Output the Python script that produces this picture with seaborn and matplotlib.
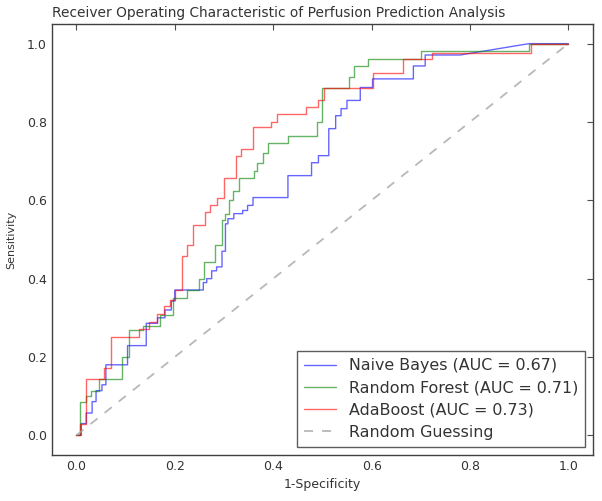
import matplotlib
matplotlib.use("Agg")
import matplotlib.pyplot as plt
import seaborn as sns
import pandas as pd

# ROC curve vertices (1-specificity, sensitivity)
nb_fpr = [0.0, 0.01, 0.01, 0.02, 0.02, 0.032, 0.032, 0.04, 0.04, 0.052, 0.052, 0.06, 0.06,
          0.104, 0.104, 0.142, 0.142, 0.165, 0.165, 0.18, 0.18, 0.193, 0.193, 0.2, 0.2,
          0.258, 0.258, 0.265, 0.265, 0.275, 0.275, 0.285, 0.285, 0.296, 0.296, 0.303, 0.303,
          0.308, 0.308, 0.32, 0.32, 0.338, 0.338, 0.348, 0.348, 0.359, 0.359, 0.43, 0.43,
          0.478, 0.478, 0.492, 0.492, 0.513, 0.513, 0.527, 0.527, 0.538, 0.538, 0.55, 0.55,
          0.577, 0.577, 0.602, 0.602, 0.685, 0.685, 0.709, 0.709, 0.78, 0.92, 1.0]
nb_tpr = [0.0, 0.0, 0.03, 0.03, 0.057, 0.057, 0.086, 0.086, 0.114, 0.114, 0.129, 0.129, 0.18,
          0.18, 0.229, 0.229, 0.286, 0.286, 0.3, 0.3, 0.32, 0.32, 0.343, 0.343, 0.371,
          0.371, 0.39, 0.39, 0.4, 0.4, 0.42, 0.42, 0.43, 0.43, 0.47, 0.47, 0.54,
          0.54, 0.553, 0.553, 0.566, 0.566, 0.574, 0.574, 0.587, 0.587, 0.607, 0.607, 0.663,
          0.663, 0.696, 0.696, 0.714, 0.714, 0.783, 0.783, 0.816, 0.816, 0.834, 0.834, 0.855,
          0.855, 0.888, 0.888, 0.91, 0.91, 0.943, 0.943, 0.971, 0.971, 1.0, 1.0]

rf_fpr = [0.0, 0.008, 0.008, 0.02, 0.02, 0.03, 0.03, 0.045, 0.045, 0.093, 0.093, 0.107, 0.107,
          0.135, 0.135, 0.17, 0.17, 0.197, 0.197, 0.224, 0.224, 0.25, 0.25, 0.26, 0.26,
          0.282, 0.282, 0.296, 0.296, 0.303, 0.303, 0.31, 0.31, 0.318, 0.318, 0.33, 0.33,
          0.361, 0.361, 0.367, 0.367, 0.38, 0.38, 0.39, 0.39, 0.43, 0.43, 0.49, 0.49, 0.5, 0.5,
          0.554, 0.554, 0.565, 0.565, 0.592, 0.592, 0.7, 0.7, 0.92, 0.92, 1.0]
rf_tpr = [0.0, 0.0, 0.086, 0.086, 0.1, 0.1, 0.114, 0.114, 0.143, 0.143, 0.2, 0.2, 0.268,
          0.268, 0.28, 0.28, 0.306, 0.306, 0.35, 0.35, 0.371, 0.371, 0.4, 0.4, 0.443,
          0.443, 0.486, 0.486, 0.55, 0.55, 0.565, 0.565, 0.6, 0.6, 0.625, 0.625, 0.658,
          0.658, 0.676, 0.676, 0.694, 0.694, 0.722, 0.722, 0.747, 0.747, 0.765, 0.765, 0.8, 0.8, 0.886,
          0.886, 0.914, 0.914, 0.943, 0.943, 0.962, 0.962, 0.98, 0.98, 1.0, 1.0]

ab_fpr = [0.0, 0.008, 0.008, 0.02, 0.02, 0.056, 0.056, 0.07, 0.07, 0.128, 0.128, 0.148, 0.148,
          0.163, 0.163, 0.178, 0.178, 0.19, 0.19, 0.2, 0.2, 0.214, 0.214, 0.224, 0.224,
          0.237, 0.237, 0.262, 0.262, 0.272, 0.272, 0.286, 0.286, 0.3, 0.3, 0.324, 0.324,
          0.334, 0.334, 0.358, 0.358, 0.396, 0.396, 0.408, 0.408, 0.466, 0.466, 0.492, 0.492,
          0.503, 0.503, 0.602, 0.602, 0.664, 0.664, 0.722, 0.722, 0.925, 0.925, 1.0]
ab_tpr = [0.0, 0.0, 0.03, 0.03, 0.143, 0.143, 0.171, 0.171, 0.25, 0.25, 0.271, 0.271, 0.29,
          0.29, 0.31, 0.31, 0.33, 0.33, 0.345, 0.345, 0.371, 0.371, 0.457, 0.457, 0.486,
          0.486, 0.536, 0.536, 0.569, 0.569, 0.587, 0.587, 0.607, 0.607, 0.658, 0.658, 0.714,
          0.714, 0.732, 0.732, 0.786, 0.786, 0.8, 0.8, 0.82, 0.82, 0.837, 0.837, 0.855,
          0.855, 0.886, 0.886, 0.925, 0.925, 0.96, 0.96, 0.975, 0.975, 1.0, 1.0]

models = ["Naive Bayes", "Random Forest", "AdaBoost"]
aucs = [0.67, 0.71, 0.73]
colors = ["b", "g", "r"]
curves = [(nb_fpr, nb_tpr), (rf_fpr, rf_tpr), (ab_fpr, ab_tpr)]

sns.set_style("white")
plt.rcParams["font.family"] = ["DejaVu Sans"]
plt.rcParams["xtick.direction"] = "in"
plt.rcParams["ytick.direction"] = "in"
plt.rcParams["xtick.top"] = True
plt.rcParams["ytick.right"] = True

fig = plt.figure(figsize=(6.02, 5.01), dpi=100)
ax = fig.add_axes([0.086, 0.092, 0.899, 0.86])

for name, auc, c, (fpr, tpr) in zip(models, aucs, colors, curves):
    df = pd.DataFrame({"fpr": fpr, "tpr": tpr})
    sns.lineplot(data=df, x="fpr", y="tpr", sort=False, estimator=None, color=c,
                 alpha=0.6, linewidth=1.0, ax=ax,
                 label="%s (AUC = %0.2f)" % (name, auc))

ax.plot([0, 1], [0, 1], linestyle="--", dashes=(5, 5), color="0.65", alpha=0.8,
        linewidth=1.3, label="Random Guessing")

ax.set_xlim(-0.05, 1.05)
ax.set_ylim(-0.05, 1.05)
ax.set_xticks([0.0, 0.2, 0.4, 0.6, 0.8, 1.0])
ax.set_yticks([0.0, 0.2, 0.4, 0.6, 0.8, 1.0])
ax.tick_params(labelsize=9, length=4, width=0.8, colors="0.3", labelcolor="0.2")
for s in ax.spines.values():
    s.set_color("0.25")
    s.set_linewidth(1.0)

ax.set_xlabel("1-Specificity", fontsize=9, color="0.2", labelpad=4)
ax.set_ylabel("Sensitivity", fontsize=8, color="0.2", labelpad=8)
ax.set_title("Receiver Operating Characteristic of Perfusion Prediction Analysis",
             fontsize=9.9, color="0.2", pad=5, x=0.42)

leg = ax.legend(loc="lower right", fontsize=11.4, frameon=True, fancybox=False,
                borderaxespad=0.5, handlelength=2.0, labelspacing=0.45,
                borderpad=0.45)
leg.get_frame().set_edgecolor("0.2")
leg.get_frame().set_linewidth(1.0)
for t in leg.get_texts():
    t.set_color("0.2")

fig.savefig("out.png", dpi=100, facecolor="white")
